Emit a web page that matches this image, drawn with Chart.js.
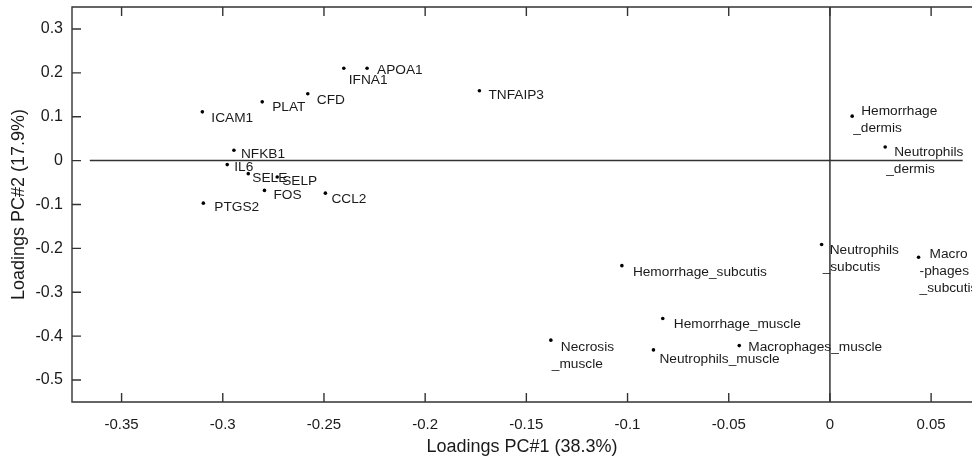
<!DOCTYPE html>
<html>
<head>
<meta charset="utf-8">
<script src="https://cdn.jsdelivr.net/npm/chart.js@4.4.0/dist/chart.umd.min.js"></script>
<style>
  html, body { margin: 0; padding: 0; background: #fff; }
  #wrap { width: 972px; height: 463px; }
</style>
</head>
<body>
<div id="wrap"><canvas id="loadings"></canvas></div>
<script>
// variable names, \n = line break in the label
const names = [
    'APOA1', 'IFNA1', 'CFD', 'PLAT', 'ICAM1', 'TNFAIP3',
    'NFKB1', 'IL6', 'SELE', 'SELP', 'FOS', 'CCL2', 'PTGS2',
    'Hemorrhage\n_dermis', 'Neutrophils\n_dermis',
    'Neutrophils\n_subcutis', 'Macro\n-phages\n_subcutis',
    'Hemorrhage_subcutis', 'Hemorrhage_muscle', 'Necrosis\n_muscle',
    'Neutrophils_muscle', 'Macrophages_muscle'
];
const pc1 = [
    -0.2287, -0.2402, -0.2580, -0.2805, -0.3101, -0.1732,
    -0.2945, -0.2978, -0.2874, -0.2731, -0.2794, -0.2493, -0.3096,
    0.0110, 0.0273,
    -0.0041, 0.0438,
    -0.1028, -0.0826, -0.1379,
    -0.0872, -0.0448
];
const pc2 = [
    0.2103, 0.2103, 0.1522, 0.1339, 0.1111, 0.1591,
    0.0235, -0.0091, -0.0297, -0.0375, -0.0679, -0.0741, -0.0969,
    0.1013, 0.0311,
    -0.1913, -0.2203,
    -0.2393, -0.3598, -0.4091,
    -0.4313, -0.4215
];
const xTicks = [-0.35, -0.3, -0.25, -0.2, -0.15, -0.1, -0.05, 0, 0.05];
const yTicks = [0.3, 0.2, 0.1, 0, -0.1, -0.2, -0.3, -0.4, -0.5];

// where each label sits next to its dot (px)
const labelOffsets = [
    [10, 2], [5, 12], [9, 6], [10, 5], [9, 6], [9, 4],
    [7, 4], [7, 3], [4, 5], [5, 4], [9, 5], [6, 6], [11, 4],
    [9, -5], [9, 5],
    [8, 6], [11, -3],
    [11, 7], [11, 6], [10, 7],
    [6, 9], [9, 2]
];

const FONT = "'Liberation Sans', Arial, sans-serif";
const INK = '#333';

const points = pc1.map((x, i) => ({ x: x, y: pc2[i] }));

const frame = {
    id: 'frame',
    afterDatasetsDraw(chart) {
        const { ctx, chartArea: a, scales } = chart;
        ctx.save();
        ctx.strokeStyle = INK;
        ctx.lineWidth = 1.4;
        ctx.beginPath();
        ctx.moveTo(a.right, a.top);
        ctx.lineTo(a.left, a.top);
        ctx.lineTo(a.left, a.bottom);
        ctx.lineTo(a.right, a.bottom);
        // inward ticks
        xTicks.forEach(v => {
            const px = scales.x.getPixelForValue(v);
            ctx.moveTo(px, a.bottom);
            ctx.lineTo(px, a.bottom - 9);
            ctx.moveTo(px, a.top);
            ctx.lineTo(px, a.top + 9);
        });
        yTicks.forEach(v => {
            const py = scales.y.getPixelForValue(v);
            ctx.moveTo(a.left, py);
            ctx.lineTo(a.left + 9, py);
        });
        ctx.stroke();

        // point labels
        const meta = chart.getDatasetMeta(0);
        ctx.fillStyle = '#1a1a1a';
        ctx.font = '13.7px ' + FONT;
        ctx.textBaseline = 'middle';
        ctx.textAlign = 'left';
        meta.data.forEach((el, i) => {
            const lines = names[i].split('\n');
            const off = labelOffsets[i];
            lines.forEach((t, k) => {
                const dx = k === 0 ? off[0] : 1;
                ctx.fillText(t, el.x + dx, el.y + off[1] + k * 17);
            });
        });
        ctx.restore();
    }
};

new Chart(document.getElementById('loadings'), {
    type: 'scatter',
    data: {
        datasets: [
            {
                data: points,
                pointRadius: 1.8,
                pointBackgroundColor: '#000',
                pointBorderWidth: 0
            },
            {
                type: 'line',
                data: [{ x: -0.3657, y: 0 }, { x: 0.0656, y: 0 }],
                borderColor: INK,
                borderWidth: 1.5,
                pointRadius: 0
            },
            {
                type: 'line',
                data: [{ x: 0, y: -0.55 }, { x: 0, y: 0.35 }],
                borderColor: INK,
                borderWidth: 1.5,
                pointRadius: 0
            }
        ]
    },
    options: {
        responsive: true,
        maintainAspectRatio: false,
        animation: false,
        layout: { autoPadding: false, padding: { top: 7, right: 0, left: 0, bottom: 0 } },
        plugins: {
            legend: { display: false },
            tooltip: { enabled: false }
        },
        scales: {
            x: {
                type: 'linear',
                min: -0.3745,
                max: 0.0702,
                afterBuildTicks: s => { s.ticks = xTicks.map(v => ({ value: v })); },
                afterFit: s => { s.height = 61; s.paddingLeft = 0; s.paddingRight = 0; },
                grid: { display: false, drawTicks: false },
                border: { display: false },
                ticks: {
                    padding: 14,
                    color: '#1a1a1a',
                    font: { family: FONT, size: 15 },
                    maxRotation: 0,
                    callback: v => String(+v.toFixed(2))
                },
                title: {
                    display: true,
                    text: 'Loadings PC#1 (38.3%)',
                    color: '#1a1a1a',
                    font: { family: FONT, size: 18 },
                    padding: { top: 0, bottom: 5 }
                }
            },
            y: {
                type: 'linear',
                min: -0.55,
                max: 0.35,
                afterBuildTicks: s => { s.ticks = yTicks.map(v => ({ value: v })); },
                afterFit: s => { s.width = 72; s.paddingTop = 0; s.paddingBottom = 0; },
                grid: { display: false, drawTicks: false },
                border: { display: false },
                ticks: {
                    padding: 9,
                    color: '#1a1a1a',
                    font: { family: FONT, size: 16 },
                    callback: v => String(+v.toFixed(2))
                },
                title: {
                    display: true,
                    text: 'Loadings PC#2 (17.9%)',
                    color: '#1a1a1a',
                    font: { family: FONT, size: 18 },
                    padding: { top: 8, bottom: 0 }
                }
            }
        }
    },
    plugins: [frame]
});
</script>
</body>
</html>
